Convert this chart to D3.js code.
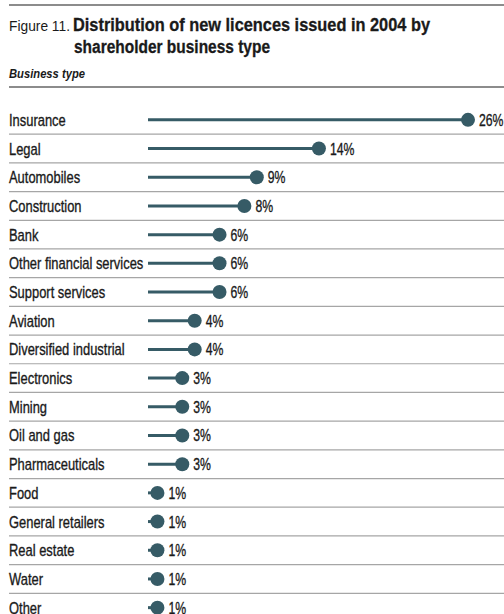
<!DOCTYPE html>
<html>
<head>
<meta charset="utf-8">
<script src="https://cdn.jsdelivr.net/npm/d3@7"></script>
<style>
  body { margin: 0; background: #fff; }
  svg text { font-family: "Liberation Sans", Arial, sans-serif; fill: #1a1a1a; }
</style>
</head>
<body>
<div id="container"></div>
<script>
// data
const categories = ["Insurance", "Legal", "Automobiles", "Construction", "Bank",
  "Other financial services", "Support services", "Aviation", "Diversified industrial",
  "Electronics", "Mining", "Oil and gas", "Pharmaceuticals", "Food",
  "General retailers", "Real estate", "Water", "Other"];
const shares = [26, 14, 9, 8, 6, 6, 6, 4, 4, 3, 3, 3, 3, 1, 1, 1, 1, 1];

const w = 504, h = 614;
const teal = "#365b66";

// condensed look: squeeze text horizontally
function squeeze(sel, ratio) {
  sel.each(function () {
    const len = this.getComputedTextLength();
    d3.select(this).attr("textLength", len * ratio).attr("lengthAdjust", "spacingAndGlyphs");
  });
}
function fit(sel, width) {
  sel.attr("textLength", width).attr("lengthAdjust", "spacingAndGlyphs");
}

const svg = d3.select("#container").append("svg")
  .attr("width", w)
  .attr("height", h);

// header rules
svg.append("rect").attr("x", 9).attr("y", 4).attr("width", w - 9).attr("height", 2).attr("fill", "#8c8c8c");
svg.append("rect").attr("x", 9).attr("y", 86).attr("width", w - 9).attr("height", 2).attr("fill", "#8c8c8c");

// title
svg.append("text").attr("x", 9).attr("y", 31)
  .attr("font-size", 15).text("Figure 11.")
  .call(fit, 61);
svg.append("text").attr("x", 73).attr("y", 31)
  .attr("font-size", 18).attr("font-weight", "bold")
  .attr("stroke", "#1a1a1a").attr("stroke-width", 0.3)
  .text("Distribution of new licences issued in 2004 by")
  .call(fit, 357);
svg.append("text").attr("x", 74).attr("y", 53)
  .attr("font-size", 18).attr("font-weight", "bold")
  .attr("stroke", "#1a1a1a").attr("stroke-width", 0.3)
  .text("shareholder business type")
  .call(fit, 196);
svg.append("text").attr("x", 9).attr("y", 78)
  .attr("font-size", 13).attr("font-style", "italic").attr("font-weight", "bold")
  .text("Business type")
  .call(fit, 76);

// scales
const y = d3.scaleBand().domain(categories).range([105.5, 622]);
const x = d3.scaleLinear().domain([0, 26]).range([145, 468]);

const rows = svg.append("g").selectAll("g")
  .data(categories)
  .enter().append("g")
  .attr("transform", d => `translate(0,${y(d) + y.bandwidth() / 2})`);

// separators
rows.filter((d, i) => i > 0).append("line")
  .attr("x1", 9).attr("x2", w)
  .attr("y1", -y.bandwidth() / 2).attr("y2", -y.bandwidth() / 2)
  .attr("stroke", "#a6a6a6").attr("stroke-width", 1.2);

rows.append("text")
  .attr("x", 9).attr("y", 6)
  .attr("font-size", 17)
  .attr("stroke", "#1a1a1a").attr("stroke-width", 0.35)
  .text(d => d)
  .call(squeeze, 0.76);

rows.append("line")
  .attr("x1", x(0) + 3)
  .attr("x2", (d, i) => x(shares[i]))
  .attr("stroke", teal).attr("stroke-width", 3);

rows.append("circle")
  .attr("cx", (d, i) => x(shares[i]))
  .attr("r", 7)
  .attr("fill", teal);

rows.append("text")
  .attr("x", (d, i) => x(shares[i]) + 11).attr("y", 6)
  .attr("font-size", 17)
  .attr("stroke", "#1a1a1a").attr("stroke-width", 0.35)
  .text((d, i) => shares[i] + "%")
  .call(squeeze, 0.72);
</script>
</body>
</html>
